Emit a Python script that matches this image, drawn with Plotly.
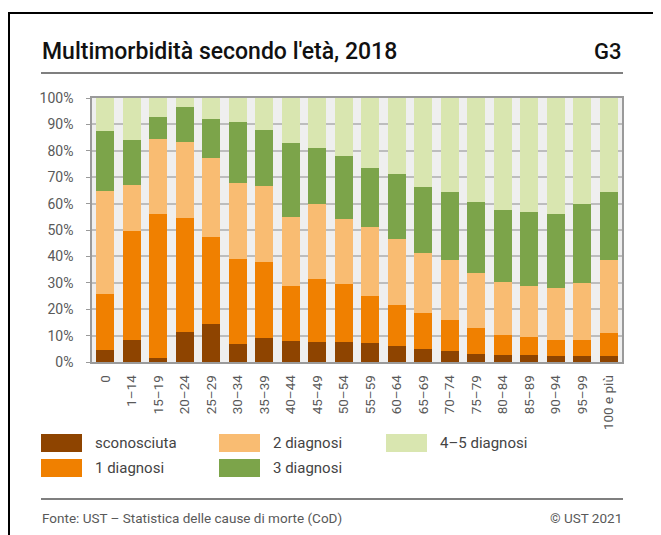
import plotly.graph_objects as go

categories = ["0", "1–14", "15–19", "20–24", "25–29", "30–34", "35–39", "40–44",
              "45–49", "50–54", "55–59", "60–64", "65–69", "70–74", "75–79",
              "80–84", "85–89", "90–94", "95–99", "100 e più"]

sconosciuta = [4.7, 8.3, 1.5, 11.2, 14.4, 6.7, 9.0, 8.1, 7.6, 7.6, 7.1, 6.2, 4.8, 4.3, 3.0, 2.5, 2.5, 2.1, 2.1, 2.1]
diagnosi_1 = [21.1, 41.4, 54.6, 43.5, 32.9, 32.4, 28.8, 20.6, 23.7, 21.9, 17.9, 15.5, 13.8, 11.5, 10.0, 7.7, 6.8, 6.4, 6.4, 9.0]
diagnosi_2 = [38.8, 17.2, 28.4, 28.8, 29.8, 28.8, 28.7, 26.4, 28.4, 24.7, 26.0, 24.8, 22.8, 22.8, 20.6, 20.2, 19.4, 19.7, 21.4, 27.5]
diagnosi_3 = [23.0, 17.1, 8.2, 13.2, 15.1, 22.9, 21.5, 27.9, 21.5, 23.8, 22.5, 24.7, 24.8, 25.7, 27.0, 27.0, 28.2, 27.9, 29.8, 25.7]
diagnosi_45 = [12.4, 16.0, 7.3, 3.3, 7.8, 9.2, 12.0, 17.0, 18.8, 22.0, 26.5, 28.8, 33.8, 35.7, 39.4, 42.6, 43.1, 43.9, 40.3, 35.7]

series_names = ["sconosciuta", "1 diagnosi", "2 diagnosi", "3 diagnosi", "4–5 diagnosi"]
series_values = [sconosciuta, diagnosi_1, diagnosi_2, diagnosi_3, diagnosi_45]
colors = ["#8e4400", "#f08000", "#f9bc72", "#7ca44a", "#d9e6b0"]

ytick_vals = list(range(0, 101, 10))
ytick_text = [f"{v}%" for v in ytick_vals]

W, H = 661, 535
OFF = 8  # page body margin in the browser
L, R, T, B = 92, 622, 98, 362  # target plot box in screenshot pixels


def px(x):
    return (x - L) / (R - L)


def py(y):
    return (B - y) / (B - T)


fig = go.Figure()
for name, vals, col in zip(series_names, series_values, colors):
    fig.add_trace(go.Bar(x=categories, y=vals, name=name, marker_color=col,
                         marker_line_width=0, showlegend=False))

TXT = "#444444"
GRAY = "#595959"
font_family = "Roboto, 'Liberation Sans', sans-serif"

shapes = [
    # outer frame
    dict(type="rect", xref="paper", yref="paper", x0=px(9), x1=px(720), y0=py(13), y1=py(620),
         line=dict(color="black", width=2), fillcolor="rgba(0,0,0,0)", layer="above"),
    # title underline
    dict(type="line", xref="paper", yref="paper", x0=px(41), x1=px(623), y0=py(73), y1=py(73),
         line=dict(color="#555555", width=1.5)),
    # footer line
    dict(type="line", xref="paper", yref="paper", x0=px(41), x1=px(623), y0=py(499), y1=py(499),
         line=dict(color="#555555", width=1.5)),
]

annotations = [
    dict(text="Multimorbidità secondo l'età, 2018", xref="paper", yref="paper",
         x=px(40), y=py(51), xanchor="left", yanchor="middle", showarrow=False,
         font=dict(family="Roboto", size=23, color="#111111", weight=500)),
    dict(text="G3", xref="paper", yref="paper",
         x=px(624), y=py(51), xanchor="right", yanchor="middle", showarrow=False,
         font=dict(family="Roboto", size=22, color="#111111", weight=500)),
    dict(text="Fonte: UST – Statistica delle cause di morte (CoD)", xref="paper", yref="paper",
         x=px(40), y=py(518), xanchor="left", yanchor="middle", showarrow=False,
         font=dict(family=font_family, size=13.5, color=GRAY)),
    dict(text="© UST 2021", xref="paper", yref="paper",
         x=px(624), y=py(518), xanchor="right", yanchor="middle", showarrow=False,
         font=dict(family=font_family, size=13.5, color=GRAY)),
]

# manual legend (column-major, 2 rows)
leg_pos = [(41, 443), (41, 468), (219, 443), (219, 468), (386, 443)]
for (lx, ly), name, col in zip(leg_pos, series_names, colors):
    shapes.append(dict(type="rect", xref="paper", yref="paper",
                       x0=px(lx), x1=px(lx + 41), y0=py(ly - 9), y1=py(ly + 9),
                       fillcolor=col, line=dict(width=0)))
    annotations.append(dict(text=name, xref="paper", yref="paper",
                            x=px(lx + 52), y=py(ly), xanchor="left", yanchor="middle",
                            showarrow=False,
                            font=dict(family=font_family, size=15, color=TXT)))

fig.update_layout(
    width=W, height=H,
    margin=dict(l=L - OFF, r=W - (R - OFF), t=T - OFF, b=H - (B - OFF), pad=0),
    barmode="stack", bargap=0.33,
    paper_bgcolor="white", plot_bgcolor="#efefef",
    font=dict(family=font_family, color=GRAY),
    showlegend=False,
    shapes=shapes, annotations=annotations,
    xaxis=dict(tickangle=-90, tickfont=dict(size=13.5, color=GRAY), showgrid=False,
               showline=True, linecolor="#9a9a9a", linewidth=1.5, mirror=True,
               ticks="", ticklabelstandoff=6, fixedrange=True),
    yaxis=dict(range=[0, 100], tickvals=ytick_vals, ticktext=ytick_text,
               tickfont=dict(size=14, color=GRAY), showgrid=True, gridcolor="#bdbdbd",
               gridwidth=1.5, showline=True, linecolor="#9a9a9a", linewidth=1.5,
               mirror=True, ticks="outside", ticklen=4, tickcolor="#9a9a9a",
               ticklabelstandoff=10, zeroline=False, fixedrange=True),
)

fig.write_html("out.html")
